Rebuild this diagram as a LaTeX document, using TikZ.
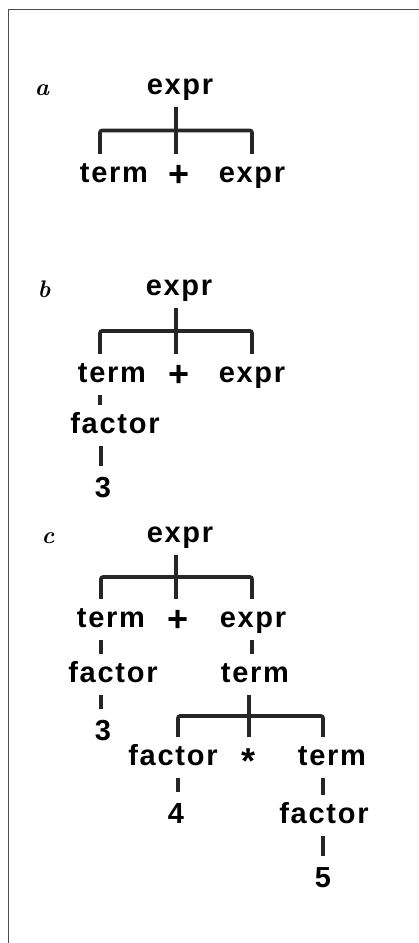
\documentclass[tikz,border=0pt]{standalone}
\usepackage{fontspec}
\usepackage{tikz}
\usetikzlibrary{calc}
\newfontfamily\treefont{Liberation Sans}[LetterSpace=6]
\tikzset{
  word/.style={font=\treefont\bfseries\fontsize{29}{30}\selectfont,anchor=base,
    inner xsep=0pt,inner ysep=7pt,text height=21pt,text depth=6pt},
  digit/.style={word,text height=24pt},
  sym/.style={word,font=\treefont\bfseries\fontsize{36}{36}\selectfont},
  tag/.style={font=\fontsize{24}{24}\selectfont\bfseries\itshape,anchor=base,inner sep=0pt},
  br/.style={draw=black!85,line width=3.6pt,rounded corners=2pt},
  frame/.style={draw=black!70,line width=1.5pt},
}

\begin{document}
\begin{tikzpicture}[x=1pt,y=-1pt]
  \useasboundingbox (0,0) rectangle (419,943);
  \draw[frame] (8.5,943) -- (8.5,9.5) -- (419,9.5);
  % labels
  \node[tag] (ta) at (42,95) {a};
  \node[tag] (tb) at (44,297) {b};
  \node[tag] (tc) at (48,543) {c};
  % tree a
  \node[word] (a-root) at (180,94) {expr};
  \node[word] (a-term) at (114,182) {term};
  \node[sym] (a-plus) at (179,182) {\raisebox{-4pt}{+}};
  \node[word] (a-expr) at (252,182) {expr};
  % tree b
  \node[word] (b-root) at (179,295) {expr};
  \node[word] (b-term) at (112,382) {term};
  \node[sym] (b-plus) at (179,382) {\raisebox{-4pt}{+}};
  \node[word] (b-expr) at (252,382) {expr};
  \node[word] (b-fac) at (115,433) {factor};
  \node[digit] (b-three) at (103,497) {3};
  % tree c
  \node[word] (c-root) at (180,542) {expr};
  \node[word] (c-term) at (111,627) {term};
  \node[sym] (c-plus) at (178,627) {\raisebox{-4pt}{+}};
  \node[word] (c-expr) at (253,627) {expr};
  \node[word] (c-fac) at (113,682) {factor};
  \node[digit] (c-three) at (103,740) {3};
  \node[word] (c-term2) at (255,682) {term};
  \node[word] (c-fac2) at (173,765) {factor};
  \node[sym] (c-star) at (249,765) {\raisebox{-8pt}{*}};
  \node[word] (c-term3) at (332,765) {term};
  \node[digit] (c-four) at (176,823) {4};
  \node[word] (c-fac3) at (324,823) {factor};
  \node[digit] (c-five) at (323,887) {5};
  % brackets
  \foreach \p/\l/\m/\r/\xl/\xm/\xr in {
      a-root/a-term/a-plus/a-expr/100/176/252,
      b-root/b-term/b-plus/b-expr/100/176/252,
      c-root/c-term/c-plus/c-expr/101/176/252,
      c-term2/c-fac2/c-star/c-term3/178/249/323} {
    \coordinate (cl) at (\xl,0);
    \coordinate (cm) at (\xm,0);
    \coordinate (cr) at (\xr,0);
    \coordinate (bar) at ($(\p.south)!0.5!(\m.north)$);
    \draw[br] (\p.south -| cm) -- (\m.north -| cm);
    \draw[br] (\l.north -| cl) |- (bar) -| (\r.north -| cr);
  }
  % single links
  \foreach \u/\v/\x in {b-term/b-fac/100,b-fac/b-three/101,
      c-term/c-fac/101,c-fac/c-three/101,c-expr/c-term2/252,
      c-fac2/c-four/178,c-term3/c-fac3/323,c-fac3/c-five/323} {
    \coordinate (col) at (\x,0);
    \draw[br] (\u.south -| col) -- (\v.north -| col);
  }
\end{tikzpicture}
\end{document}
